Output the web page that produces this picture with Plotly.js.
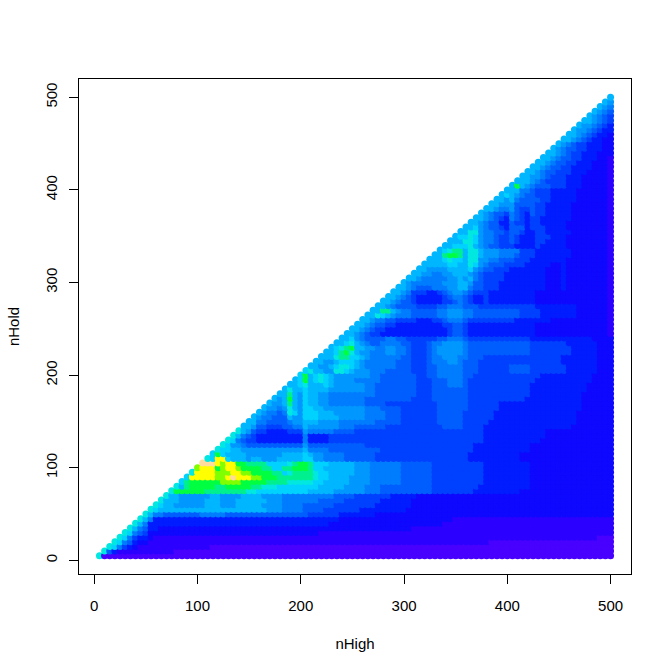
<!DOCTYPE html>
<html><head><meta charset="utf-8">
<script src="https://cdn.plot.ly/plotly-3.0.1.min.js"></script>
<style>html,body{margin:0;padding:0;background:#fff}</style></head>
<body><div id="chart" style="width:672px;height:672px"></div>
<script>
// Colour level per dot, one row per nHold (500 down to 5), each row runs nHigh = nHold ... 500.
const levelRows = [
"8","87","876","8765","87654","887654","8776543","87765433","887654332","8876543322",
"8 7654433322","87 6554433322","887 6544333222","8876 5544333221","88765 5443332221","887655 4433332221","8876554 4433322221","88776544 4333222221","888765444 4333222221","8c87655544 4333222221",
"8 8866544433 3332222221","89 8765544433 3332222221","887 8655554433 3332222221","8877 7555544333 3322222221","88766 7544544333 3322222221","876554 6543544333 3322222221","8876543 6543443333 3322222221","88765533 5443443333 3222222221","889765543 5553444333 3222222221","88aa766554 5543344333 3322222221",
"8 99a9766544 5433344433 3222222221","88 8aa9766544 5433344333 3222222221","889 99a8765544 4333343333 3222222221","89ab b8aa877766 6644433333 3322222221","88bcc b8aa877766 6544433333 3322222221","8889a9 98aa776655 5444333333 3222222221","8888899 88a9765554 4443333322 3222222221","88777788 8897655444 3333333222 3222222221","887766778 8876544443 3333333222 3222222221","8876666677 8786544443 3333333222 3222222221",
"8 7666666777 8875544433 3333333222 3222222221","88 7655566677 8865544433 3333333222 3222222221","887 6444334567 7654443333 3333322222 2222222221","8876 5433333456 6543343333 3333322222 2222222221","88765 5433333445 6543343333 3333322222 2222222221","887655 5544445566 6555444444 4444433333 3332222221","88bb876 6555556677 7665555555 5544443333 3332222221","88a98766 6555556677 7665555555 5544443333 3332222221","887665544 4433344566 6544444444 4333333322 2222222221","8876554433 3333333445 5433333333 3333322222 2222222221",
"8 8765443333 3333333345 5433333333 3333322222 2222222221","88 7654433333 3333333345 5433333333 3333322222 2222222221","889 7655556655 4444445566 6544444444 4444333333 3333332222","889a 8765566665 5444566777 7655555555 5555444444 4333333222","89abc 8877667766 5444567777 7655555555 5555444444 4433333222","889bca 8776667766 5444567777 7655555555 5555444444 4433333222","888abb9 9876666665 5444566777 6655544444 4444444444 3333333222","88778999 8766666655 5444566677 6555444444 4444444444 3333333222","887789aa9 8766666655 5444556666 6555444444 5555444444 4333333222","9a8877aa98 7776665555 5444556666 6555444444 5555444444 4333333222",
"9 c89a987777 7776655555 5544556666 6554444444 4444443333 3333332222","89 c89a987777 6666655555 5544455566 6544444444 4444433333 3333332222","889 a888987777 7766555555 5544455566 6544444444 4444333333 3333322222","8a88 9888877777 7766555555 5544455555 5544444444 4444333333 3333322222","88b87 9887766666 6666555555 5544455555 5544444444 4444333333 3333222222","878c87 9887766666 6655555555 5444455555 5544444444 4443333333 3333222222","8778b87 9887766666 6655554444 4444445555 5544444433 3333333333 3333222222","87767a87 9988777777 7766655554 4444445555 5544444433 3333333333 3333222222","876656a97 9998887777 7766665554 4444445555 5444444333 3333333333 3332222222","8766555877 9998888777 7766665554 4444445555 5444444333 3333333333 3332222222",
"8 8665555677 8887777666 6666555554 4444445555 5444443333 3333333333 3332222222","88 7554445566 8777777666 5555554444 4444444555 5444433333 3333333333 3322222222","a87 5443333444 7666665555 4444444444 4444444444 4444433333 3333333222 2222222222","a865 4333333333 6333344444 4444444444 4444444444 4444433333 3333333222 2222222222","a9654 4333333333 6333344444 4444444444 4444444444 4444433333 3333332222 2222222222","a97765 5555555555 7555555555 5544444444 4444444444 4443333333 3333222222 2222222222","a998877 7777777777 8666655555 5555544444 4444444444 4443333333 3333222222 2222222222","9c988887 7777778888 9877666655 5555444444 4444444444 4433333333 3322222222 2222222222","a9ee98887 8877788888 9977666655 5555444444 4444444444 4433333333 3322222222 2222222222","fffedeeccb bbb9999abc cb99988888 7776666665 5555544444 4444433333 3333222222 2222222222",
"d eeecdeedcc ccbb99bbcc cb99888888 7776666665 5555544444 4444433333 3333222222 2222222222","ae eeedddeedd ccccbb9abb bba9988888 7776666665 5555544444 4444433333 3333222222 2222222222","9ee eeeddefeee ddcccbbbbb bba9988887 7776666665 5555544444 4444433333 3333222222 2222222222","9bcc ccccddddcc cccbbbbaaa aa99888887 7776666665 5555544444 4444433333 3333222222 2222222222","a8bcc cccbbccccc bbaaa99999 9998888877 7766655555 5555544444 4444333333 3333222222 2222222222","accccc cbbbbbbbba a999999999 9888887777 7766655555 5555544444 4443333333 3322222222 2222222222","a887777 7788777788 8877776666 6666665555 4444444333 3322222222 2222222222 2222222222 2222222222","a8887777 7888777888 8887776666 6665555544 4444433333 3222222222 2222222222 2222222222 2222222222","a98877777 7888777888 8877776666 5555554444 4444333333 3222222222 2222222222 2222222222 2222222222","a988888888 8888888888 8887776666 5555444444 4333333333 2222222222 2222222222 2222222222 2222222222",
"a 8665555555 6666655555 5555555555 5444444333 3333222222 2222222222 2222222222 2222222222 2222222222","a8 6333333333 3333333333 3333333333 3333333222 2222222222 2222222221 1111111111 1111111111 1111111111","a86 3333333333 3333333333 3333333333 3333322222 2222222222 2222222111 1111111111 1111111111 1111111111","a865 3322222222 2222222222 2222222222 2222222222 2222222222 2111111111 1111111111 1111111111 1111111111","a9654 2222222222 2222222222 2222222222 2221111111 1111111111 1111111111 1111111111 1111111111 1111111111","a96433 2111111111 1111111111 1111111111 1111111111 1111111111 1111111111 1111111111 1111111111 1111111000","a965322 1111111111 1111111111 1111111111 1111111111 1111111111 1111111111 1111110000 0000000000 0000000000","a9643211 1111111111 1100000000 0000000000 0000000000 0000000000 0000000000 0000000000 0000000000 0000000000","a53111111 1111100000 0000000000 0000000000 0000000000 0000000000 0000000000 0000000000 0000000000 0000000000","a000000000 0000000000 0000000000 0000000000 0000000000 0000000000 0000000000 0000000000 0000000000 0000000000"
];
const levelColors = ["#4800ff","#2c00ff","#0e08ff","#001cff","#0040ff","#005eff","#007cff","#0098ff","#00b6ff","#00d2ff","#00e8e0","#00f090","#00ff40","#80ff00","#ffff00","#ffdb9e"];
const axisTicks = [0,100,200,300,400,500];

// Rows hold one string each; draw column by column so later dots lie over earlier ones.
const cells = [];
levelRows.forEach(function(row, i){
  const nHold = 500 - 5*i, s = row.replace(/ /g,'');
  for (let k = 0; k < s.length; k++){
    const nHigh = 500 - 5*(s.length-1-k);
    cells.push({x:nHigh, y:nHold, c:parseInt(s[k],16)});
  }
});
cells.sort(function(a,b){return a.x-b.x || a.y-b.y;});

const font = {family:'"Liberation Sans", Arial, sans-serif', size:15, color:'#000'};
const axis = {
  tickmode:'array', tickvals:axisTicks, ticktext:axisTicks.map(String),
  ticks:'outside', ticklen:9, tickwidth:1, tickcolor:'#000',
  showline:true, linecolor:'#000', linewidth:1, mirror:true,
  showgrid:false, zeroline:false, range:[-14.8,519.8], tickfont:font
};
Plotly.newPlot('chart',[{
  type:'scatter', mode:'markers',
  x:cells.map(function(c){return c.x;}),
  y:cells.map(function(c){return c.y;}),
  marker:{size:7, line:{width:0}, color:cells.map(function(c){return levelColors[c.c];})},
  hoverinfo:'skip'
}],{
  width:672, height:672, showlegend:false, paper_bgcolor:'#fff', plot_bgcolor:'#fff',
  margin:{l:78.5,r:41,t:79,b:98},
  xaxis:Object.assign({},axis,{ticklabelstandoff:9,title:{text:'nHigh',font:font,standoff:25}}),
  yaxis:Object.assign({},axis,{tickangle:-90,ticklabelstandoff:6,title:{text:'nHold',font:font,standoff:19}})
},{displayModeBar:false,staticPlot:true});
</script></body></html>
